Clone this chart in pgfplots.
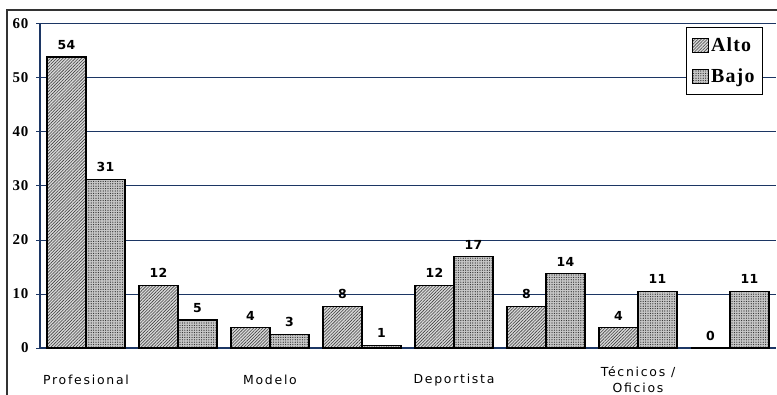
\documentclass[border=0pt]{standalone}
\usepackage{fontspec}
\usepackage{pgfplots}
\pgfplotsset{compat=1.18}
\usepackage{pgfplotstable}
\usetikzlibrary{patterns.meta}
\setmainfont{Liberation Serif}
\newfontfamily\labfont[LetterSpace=14]{DejaVu Sans}
\newfontfamily\numfont[LetterSpace=4]{DejaVu Sans}
\newfontfamily\serifb[LetterSpace=6]{Liberation Serif}
\definecolor{gridnavy}{RGB}{28,54,100}
\pgfplotstableread{
x y lab
1 53.9 54
2 11.6 12
3 3.8 4
4 7.7 8
5 11.6 12
6 7.7 8
7 3.8 4
8 0 0
}\alto
\pgfplotstableread{
x y lab
1 31.2 31
2 5.2 5
3 2.5 3
4 0.5 1
5 16.9 17
6 13.8 14
7 10.5 11
8 10.5 11
}\bajo
\begin{document}
\begin{tikzpicture}
\useasboundingbox (-40bp,-47bp) rectangle (737bp,348bp);
\draw[black!80, line width=1.5bp] (-33bp,-47bp) -- (-33bp,338bp) -- (737bp,338bp);
\begin{axis}[
  at={(0,0)}, anchor=south west,
  scale only axis, width=736bp, height=324bp,
  xmin=0.5, xmax=8.5, ymin=0, ymax=60,
  ybar=0pt, bar width=39bp,
  clip=false,
  axis x line*=bottom, axis y line*=left,
  axis line style={gridnavy, line width=1.2bp, -},
  ytick={0,10,...,60},
  ymajorgrids, grid style={gridnavy, line width=1bp},
  xtick={1,3,5,7},
  xticklabels={Profesional, Modelo, Deportista, {Técnicos /\\Oficios}},
  x tick label style={font=\labfont\fontsize{12.5}{16}\selectfont, align=center, anchor=center, yshift=-28bp},
  major x tick style={draw=none},
  extra x ticks={1.5,2.5,...,7.5},
  extra x tick labels={},
  extra x tick style={grid=none, major tick style={draw=gridnavy, line width=1bp}, major tick length=4bp},
  tick align=outside,
  major tick length=4bp,
  y tick style={draw=gridnavy, line width=1bp},
  /pgf/number format/assume math mode=true,
  y tick label style={font=\serifb\bfseries\fontsize{15}{15}\selectfont, xshift=-4bp},
  nodes near coords,
  point meta=explicit symbolic,
  every node near coord/.append style={font=\numfont\bfseries\fontsize{12.5}{12.5}\selectfont, yshift=3.5bp},
  legend image code/.code={\draw[#1, line width=0.8bp] (0bp,-7bp) rectangle (16bp,7bp);},
  legend style={at={(1,1)}, anchor=north east, xshift=-13bp, yshift=-3bp,
    draw=black, line width=1bp, fill=white,
    font=\serifb\bfseries\fontsize{20}{20}\selectfont,
    row sep=12bp, inner xsep=6bp, inner ysep=8bp,
    legend cell align=left},
]
\addplot[draw=black, line width=1.3bp, fill=gray!30,
  postaction={pattern={Lines[angle=45,distance=2.2bp,line width=0.6bp]}, pattern color=black!75}]
  table[x=x, y=y, meta=lab]{\alto};
\addplot[draw=black, line width=1.3bp, fill=gray!45,
  postaction={pattern={Dots[distance=2.4bp,radius=0.6bp]}, pattern color=black!85}]
  table[x=x, y=y, meta=lab]{\bajo};
\legend{Alto, Bajo}
\end{axis}
\end{tikzpicture}
\end{document}
